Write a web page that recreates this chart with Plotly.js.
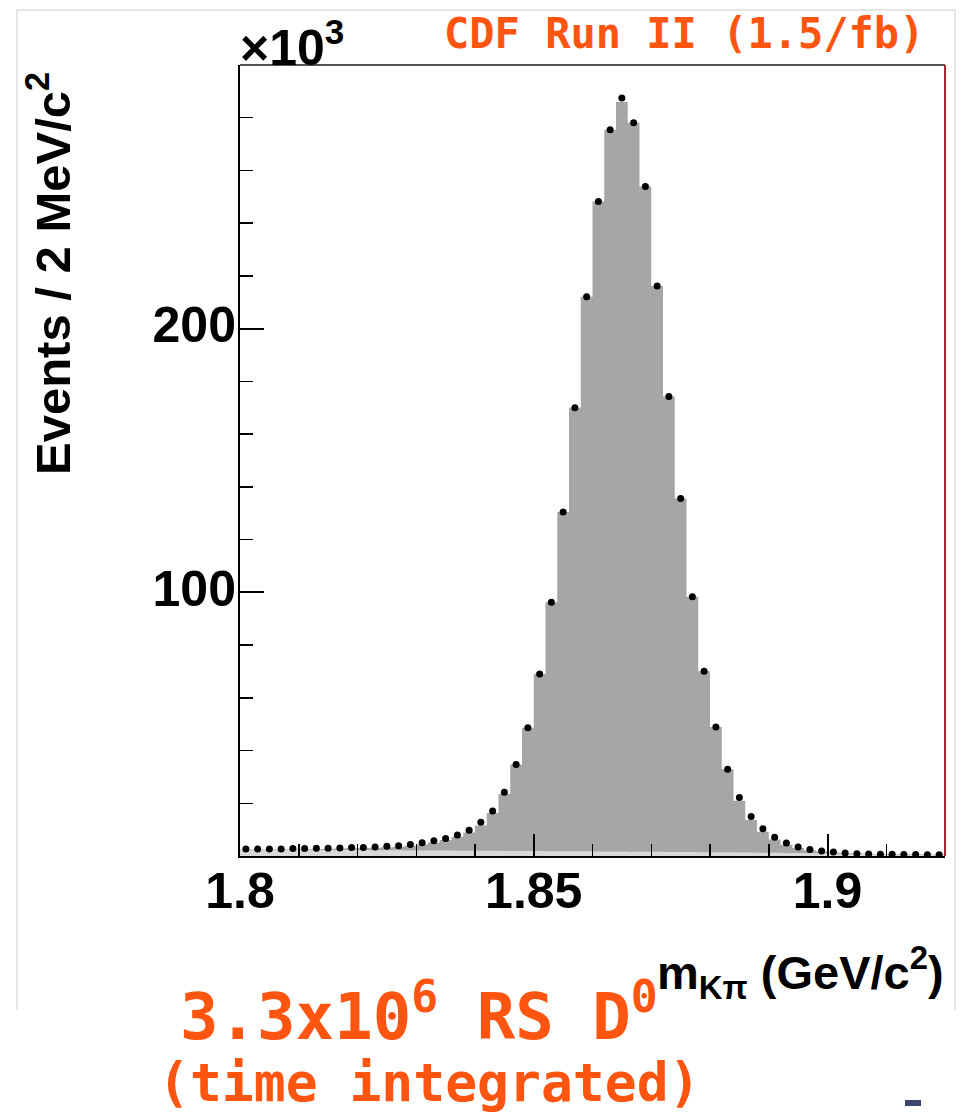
<!DOCTYPE html>
<html>
<head>
<meta charset="utf-8">
<script src="https://cdn.plot.ly/plotly-3.0.1.min.js"></script>
<style>html,body{margin:0;padding:0;background:#fff;}#chart{width:964px;height:1117px;}</style>
</head>
<body>
<div id="chart"></div>
<script>
// ---- binning (2 MeV/c^2 bins from 1.80 to 1.92 GeV/c^2) ----
const binLow = 1.8;
const binWidth = 0.002;
const nBins = 60;

// ---- data points (events per bin, x10^3) ----
const dataCounts = [
  2.7, 2.7, 2.7, 2.7, 2.8, 2.8, 2.9, 2.9, 3.0, 3.2, 3.2, 3.4, 3.7, 3.9,
  4.4, 5.0, 5.8, 6.6, 8.0, 9.8, 12.8, 17.1, 24.2, 34.7,
  48.6, 69.0, 96.2, 130.5, 170.0, 212.1, 248.2, 275.4, 287.5, 278.1,
  253.9, 216.2, 174.3, 135.6, 98.3, 70.1, 48.9, 32.9, 22.2, 15.0,
  10.3, 7.1, 4.9, 3.4, 2.5, 1.9, 1.5, 1.1,
  0.9, 0.8, 0.7, 0.7, 0.6, 0.6, 0.5, 0.5
];

// ---- total fit (signal + background, dark grey) ----
const fitTotal = [
  2.6, 2.6, 2.6, 2.6, 2.6, 2.6, 2.7, 2.7, 2.8, 2.9, 3.0, 3.1, 3.3, 3.5,
  3.9, 4.4, 5.1, 6.1, 7.3, 8.9, 11.6, 16.3, 23.5, 34.7,
  48.6, 69.0, 96.2, 130.5, 170.0, 212.1, 248.2, 275.4, 286.0, 278.1,
  253.9, 216.2, 174.3, 135.6, 98.3, 70.1, 48.9, 32.9, 21.0, 13.7,
  9.2, 6.3, 4.3, 3.0, 2.2, 1.7, 1.3, 1.1,
  1.0, 0.9, 0.8, 0.8, 0.7, 0.7, 0.6, 0.6
];

// ---- background component (light grey) ----
const bkgFit = [
  2.5, 2.5, 2.5, 2.4, 2.4, 2.4, 2.4, 2.3, 2.3, 2.3,
  2.3, 2.2, 2.2, 2.2, 2.1, 2.1, 2.1, 2.1, 2.0, 2.0,
  2.0, 2.0, 1.9, 1.9, 1.9, 1.9, 1.8, 1.8, 1.8, 1.8,
  1.7, 1.7, 1.7, 1.6, 1.6, 1.6, 1.5, 1.5, 1.5, 1.4,
  1.4, 1.4, 1.3, 1.3, 1.2, 1.2, 1.1, 1.1, 1.0, 1.0,
  0.9, 0.9, 0.8, 0.8, 0.7, 0.7, 0.6, 0.6, 0.5, 0.5
];

// ---- tick labels ----
const xTickVals = [1.8, 1.85, 1.9];
const xTickText = ['1.8', '1.85', '1.9'];
const yTickVals = [100, 200];
const yTickText = ['100', '200'];

// bin edges / centres from binning definition
const edges = [];
for (let i = 0; i <= nBins; i++) edges.push(+(binLow + i * binWidth).toFixed(4));
const centres = [];
for (let i = 0; i < nBins; i++) centres.push(+(binLow + (i + 0.5) * binWidth).toFixed(4));
const stepY = arr => arr.concat([arr[arr.length - 1]]);

// layout geometry helpers (pixel -> paper)
const W = 964, H = 1117;
const mL = 240, mR = 19, mT = 65, mB = 261;
const pw = W - mL - mR, ph = H - mT - mB;
const px = x => (x - mL) / pw;
const py = y => (H - mB - y) / ph;

const helv = 'Liberation Sans, Arial, Helvetica, sans-serif';
const comic = 'Comic Sans MS, DejaVu Sans Mono, monospace';
const orange = '#ff5511';

const traces = [
  { type: 'scatter', mode: 'lines', x: edges, y: stepY(fitTotal), line: { shape: 'hv', width: 0, color: '#a6a6a6' },
    fill: 'tozeroy', fillcolor: '#a6a6a6', hoverinfo: 'skip' },
  { type: 'scatter', mode: 'lines', x: edges, y: stepY(bkgFit), line: { shape: 'hv', width: 0, color: '#d9d9d9' },
    fill: 'tozeroy', fillcolor: '#d9d9d9', hoverinfo: 'skip' },
  { type: 'scatter', mode: 'markers', x: centres, y: dataCounts,
    marker: { color: '#000', size: 7, symbol: 'circle' } }
];

const layout = {
  width: W, height: H,
  margin: { l: mL, r: mR, t: mT, b: mB, pad: 0 },
  paper_bgcolor: '#fff', plot_bgcolor: '#fff',
  showlegend: false,
  xaxis: {
    range: [1.8, 1.92], tickmode: 'array', tickvals: xTickVals, ticktext: xTickText,
    ticks: 'inside', ticklen: 22, tickwidth: 2, tickcolor: '#000',
    minor: { tick0: 1.8, dtick: 0.01, ticks: 'inside', ticklen: 12, tickwidth: 1.5, tickcolor: '#000' },
    showline: true, linecolor: '#000', linewidth: 2, zeroline: false, showgrid: false,
    tickfont: { family: helv, size: 50, color: '#000', weight: 'bold' },
    ticklabelstandoff: -10
  },
  yaxis: {
    range: [0, 300], tickmode: 'array', tickvals: yTickVals, ticktext: yTickText,
    ticks: 'inside', ticklen: 24, tickwidth: 2, tickcolor: '#000',
    minor: { tick0: 0, dtick: 20, ticks: 'inside', ticklen: 13, tickwidth: 1.5, tickcolor: '#000' },
    showline: true, linecolor: '#000', linewidth: 2, zeroline: false, showgrid: false,
    tickfont: { family: helv, size: 50, color: '#000', weight: 'bold' },
    ticklabelstandoff: -8,
    ticklabelshift: -4
  },
  shapes: [
    { type: 'line', xref: 'paper', yref: 'paper', x0: 0, x1: 1, y0: 1, y1: 1, line: { color: '#555', width: 2 } },
    { type: 'line', xref: 'paper', yref: 'paper', x0: 1, x1: 1, y0: 0, y1: 1, line: { color: '#a52a2a', width: 2 } },
    { type: 'line', xref: 'paper', yref: 'paper', x0: px(17), x1: px(955), y0: py(10), y1: py(10), line: { color: '#dcdcdc', width: 1.5 } },
    { type: 'line', xref: 'paper', yref: 'paper', x0: px(17), x1: px(17), y0: py(10), y1: py(1010), line: { color: '#dcdcdc', width: 1.5 } },
    { type: 'line', xref: 'paper', yref: 'paper', x0: px(955), x1: px(955), y0: py(10), y1: py(1010), line: { color: '#dcdcdc', width: 1.5 } },
    { type: 'rect', xref: 'paper', yref: 'paper', x0: px(905), x1: px(921), y0: py(1100), y1: py(1106), fillcolor: '#3b4570', line: { width: 0 } }
  ],
  annotations: [
    { xref: 'paper', yref: 'paper', x: px(238), y: py(44), xanchor: 'left', yanchor: 'middle', showarrow: false,
      text: '×10<sup>3</sup>', font: { family: helv, size: 50, color: '#000', weight: 'bold' } },
    { xref: 'paper', yref: 'paper', x: px(49), y: py(274), xanchor: 'center', yanchor: 'middle', showarrow: false, textangle: -90,
      text: 'Events / 2 MeV/c<sup>2</sup>', font: { family: helv, size: 49, color: '#000', weight: 'bold' } },
    { xref: 'paper', yref: 'paper', x: px(946), y: py(973), xanchor: 'right', yanchor: 'middle', showarrow: false,
      text: 'm<sub>Kπ</sub> (GeV/c<sup>2</sup>)', font: { family: helv, size: 47, color: '#000', weight: 'bold' } },
    { xref: 'paper', yref: 'paper', x: px(926), y: py(34), xanchor: 'right', yanchor: 'middle', showarrow: false,
      text: 'CDF Run II (1.5/fb)', font: { family: comic, size: 42, color: orange, weight: 'bold' } },
    { xref: 'paper', yref: 'paper', x: px(178), y: py(1012), xanchor: 'left', yanchor: 'middle', showarrow: false,
      text: '3.3x10<sup>6</sup> RS D<sup>0</sup>', font: { family: comic, size: 64, color: orange, weight: 'bold' } },
    { xref: 'paper', yref: 'paper', x: px(156), y: py(1082), xanchor: 'left', yanchor: 'middle', showarrow: false,
      text: '(time integrated)', font: { family: comic, size: 53, color: orange, weight: 'bold' } }
  ]
};

Plotly.newPlot('chart', traces, layout, { staticPlot: true, displayModeBar: false });
</script>
</body>
</html>
